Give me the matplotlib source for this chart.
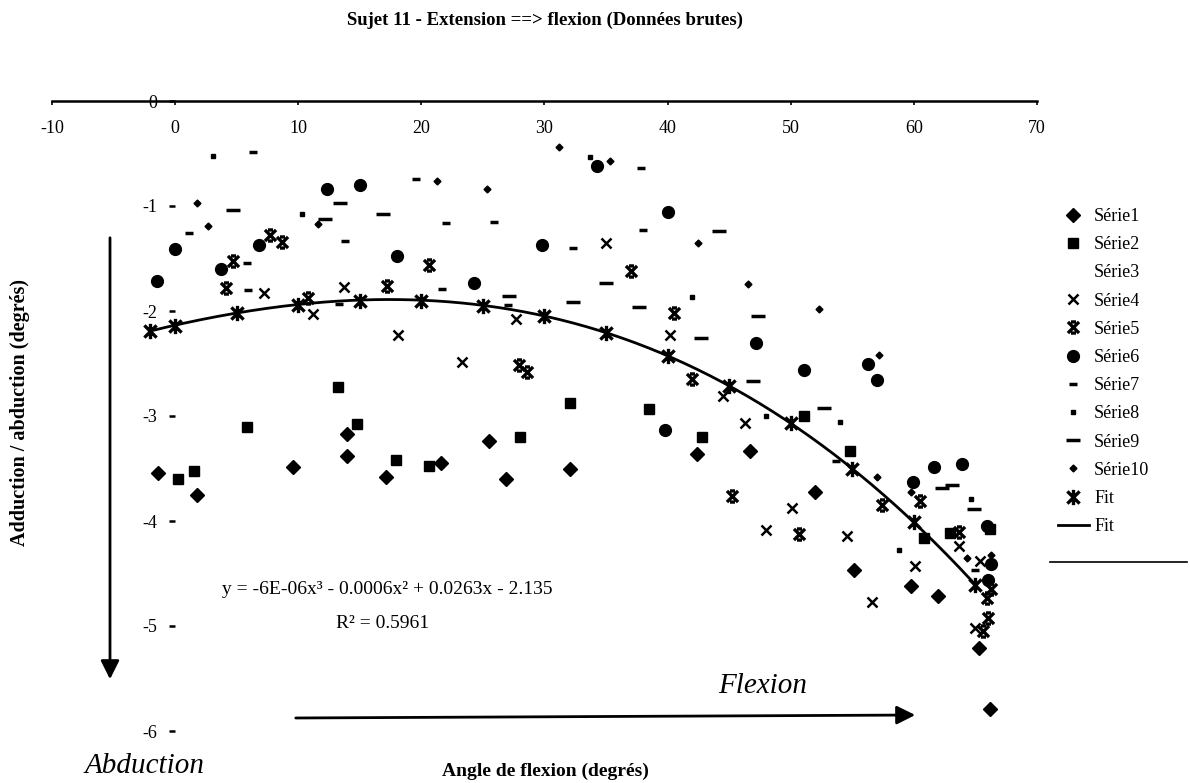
import matplotlib
matplotlib.use("Agg")
import numpy as np
import matplotlib.pyplot as plt
from matplotlib.path import Path
from matplotlib.lines import Line2D

plt.rcParams['font.family'] = ['Liberation Serif', 'DejaVu Serif']
plt.rcParams['axes.unicode_minus'] = False

# data
s1_x = [-1.4, 1.8, 9.6, 14.0, 14.0, 17.1, 21.6, 25.5, 26.9, 32.1, 42.4, 46.7, 52.0, 55.1, 59.8, 62.0, 65.3, 66.2]
s1_y = [-3.54, -3.75, -3.49, -3.17, -3.38, -3.58, -3.45, -3.24, -3.6, -3.5, -3.36, -3.33, -3.72, -4.47, -4.62, -4.71, -5.21, -5.79]

s2_x = [0.2, 1.5, 5.8, 13.2, 14.8, 17.9, 20.6, 28.0, 32.1, 38.5, 42.8, 51.1, 54.8, 60.8, 62.9, 66.2]
s2_y = [-3.6, -3.52, -3.1, -2.72, -3.08, -3.42, -3.48, -3.2, -2.88, -2.93, -3.2, -3.0, -3.33, -4.16, -4.11, -4.08]

s3_x = []
s3_y = []

s4_x = [7.2, 11.2, 13.7, 18.1, 23.3, 27.7, 35.0, 40.2, 44.5, 46.3, 48.0, 50.1, 54.6, 56.6, 60.1, 63.7, 65.4, 65.0]
s4_y = [-1.83, -2.03, -1.77, -2.23, -2.49, -2.08, -1.35, -2.23, -2.81, -3.07, -4.09, -3.88, -4.14, -4.77, -4.43, -4.24, -4.38, -5.02]

s5_x = [4.1, 4.7, 7.7, 8.7, 10.8, 17.2, 20.6, 27.9, 28.6, 37.0, 40.5, 42.0, 45.2, 50.7, 57.4, 60.5, 63.7, 66.3, 65.9, 66.0, 65.6]
s5_y = [-1.78, -1.52, -1.28, -1.34, -1.88, -1.76, -1.56, -2.51, -2.58, -1.62, -2.02, -2.65, -3.76, -4.12, -3.85, -3.81, -4.1, -4.65, -4.73, -4.92, -5.05]

s6_x = [-1.5, 0.0, 3.7, 6.8, 12.3, 15.0, 18.0, 24.3, 29.8, 34.3, 40.0, 47.2, 51.1, 56.3, 57.0, 39.8, 59.9, 61.6, 63.9, 65.9, 66.3, 66.0]
s6_y = [-1.71, -1.41, -1.6, -1.37, -0.84, -0.8, -1.48, -1.73, -1.37, -0.62, -1.06, -2.3, -2.56, -2.5, -2.66, -3.13, -3.63, -3.49, -3.46, -4.05, -4.41, -4.56]

s7_x = [1.1, 5.8, 5.9, 6.3, 13.8, 13.3, 19.6, 21.7, 22.0, 25.9, 27.0, 32.3, 37.8, 38.0, 53.7, 65.0]
s7_y = [-1.26, -1.54, -1.8, -0.49, -1.33, -1.93, -0.74, -1.79, -1.16, -1.15, -1.94, -1.4, -0.64, -1.23, -3.43, -4.47]

s8_x = [3.1, 10.3, 33.7, 42.0, 48.0, 54.0, 58.8, 64.6]
s8_y = [-0.52, -1.08, -0.53, -1.87, -3.0, -3.06, -4.28, -3.79]

s9_x = [4.7, 12.2, 13.4, 16.9, 27.1, 32.3, 35.0, 37.7, 42.7, 44.2, 46.9, 47.3, 52.7, 62.3, 63.1, 64.9]
s9_y = [-1.04, -1.12, -0.97, -1.08, -1.86, -1.91, -1.73, -1.96, -2.26, -1.24, -2.67, -2.05, -2.92, -3.69, -3.66, -3.89]

s10_x = [1.8, 2.7, 11.6, 21.3, 25.3, 31.2, 35.3, 42.5, 46.5, 52.3, 57.2, 57.0, 59.8, 64.3, 66.3]
s10_y = [-0.97, -1.19, -1.17, -0.76, -0.84, -0.44, -0.57, -1.35, -1.74, -1.98, -2.42, -3.58, -3.72, -4.35, -4.32]

fit_x = [-2, 0, 5, 10, 15, 20, 25, 30, 35, 40, 45, 50, 55, 60, 65]
fit_y = [-2.19, -2.14, -2.02, -1.94, -1.9, -1.9, -1.95, -2.05, -2.21, -2.43, -2.71, -3.07, -3.5, -4.01, -4.61]

# trendline coefficients shown on the chart
trend = [-6e-06, -0.0006, 0.0263, -2.135]

x_ticks = [-10, 0, 10, 20, 30, 40, 50, 60, 70]
y_ticks = [0, -1, -2, -3, -4, -5, -6]

W, H = 1190, 783

# custom markers
hourglass = Path([(-1, -1), (1, 1), (-1, 1), (1, -1), (-0.45, 1), (0.45, 1), (-0.45, -1), (0.45, -1)],
                 [Path.MOVETO, Path.LINETO] * 4)
star = Path([(-1, -1), (1, 1), (-1, 1), (1, -1), (0, -1.25), (0, 1.25)],
            [Path.MOVETO, Path.LINETO] * 3)

fig = plt.figure(figsize=(W / 100, H / 100), dpi=100)
ax = fig.add_axes([52 / W, (H - 731) / H, 985 / W, 630 / H])

k = 'black'
h1, = ax.plot(s1_x, s1_y, 'D', color=k, ms=7.5, ls='none')
h2, = ax.plot(s2_x, s2_y, 's', color=k, ms=7.5, ls='none')
h3, = ax.plot(s3_x, s3_y, marker='none', ls='none')
h4, = ax.plot(s4_x, s4_y, 'x', color=k, ms=7, mew=1.8, ls='none')
h5, = ax.plot(s5_x, s5_y, marker=hourglass, color=k, ms=8, mew=2.4, ls='none')
h6, = ax.plot(s6_x, s6_y, 'o', color=k, ms=8.5, ls='none')
h7, = ax.plot(s7_x, s7_y, '_', color=k, ms=6, mew=2.5, ls='none')
h8, = ax.plot(s8_x, s8_y, 's', color=k, ms=2.5, ls='none')
h9, = ax.plot(s9_x, s9_y, '_', color=k, ms=10, mew=2.5, ls='none')
h10, = ax.plot(s10_x, s10_y, 'D', color=k, ms=3.5, ls='none')

xs = np.linspace(fit_x[0], fit_x[-1], 200)
hl, = ax.plot(xs, np.polyval(trend, xs), color=k, lw=2)
hf, = ax.plot(fit_x, fit_y, marker=star, color=k, ms=11, mew=2.4, ls='none')

ax.set_xlim(-10, 70)
ax.set_ylim(-6, 0)
ax.set_xticks(x_ticks)
ax.set_xticklabels([str(v) for v in x_ticks])
ax.set_yticks(y_ticks)
ax.set_yticklabels([str(v) for v in y_ticks])

ax.spines['top'].set_visible(False)
ax.spines['right'].set_visible(False)
ax.spines['bottom'].set_position(('data', 0))
ax.spines['bottom'].set_linewidth(1.8)
ax.spines['left'].set_position(('data', 0))
ax.spines['left'].set_color('none')
ax.tick_params(axis='x', length=3, width=1.2, pad=11, labelsize=13)
ax.tick_params(axis='y', length=4, width=1.8, pad=9, labelsize=13)
ax.patch.set_alpha(0)

# texts
fig.text(545 / W, 1 - 20 / H, "Sujet 11 - Extension ==> flexion (Données brutes)",
         ha='center', va='center', fontsize=13.5, fontweight='bold')
fig.text(20 / W, 1 - 412 / H, "Adduction / abduction (degrés)", rotation=90,
         ha='center', va='center', fontsize=14.5, fontweight='bold')
fig.text(545 / W, 1 - 771 / H, "Angle de flexion (degrés)",
         ha='center', va='center', fontsize=14, fontweight='bold')
fig.text(145 / W, 1 - 766 / H, "Abduction", ha='center', va='center',
         fontsize=21, style='italic')
fig.text(763 / W, 1 - 686 / H, "Flexion", ha='center', va='center',
         fontsize=21, style='italic')
fig.text(387 / W, 1 - 590 / H, "y = -6E-06x³ - 0.0006x² + 0.0263x - 2.135",
         ha='center', va='center', fontsize=14)
fig.text(383 / W, 1 - 623 / H, "R² = 0.5961", ha='center', va='center', fontsize=14)

# direction arrows
ax.annotate('', xy=(110, H - 682), xytext=(110, H - 235), xycoords='figure pixels',
            arrowprops=dict(arrowstyle='-|>', color=k, lw=2, mutation_scale=28))
ax.annotate('', xy=(918, H - 715), xytext=(293, H - 718), xycoords='figure pixels',
            arrowprops=dict(arrowstyle='-|>', color=k, lw=2, mutation_scale=28))

handles = [h1, h2, h3, h4, h5, h6, h7, h8, h9, h10, hf, hl]
labels = ["Série1", "Série2", "Série3", "Série4", "Série5", "Série6", "Série7",
          "Série8", "Série9", "Série10", "Fit", "Fit"]
fig.legend(handles, labels, loc='upper left', bbox_to_anchor=(1058 / W, 1 - 208 / H),
           frameon=False, fontsize=13, labelspacing=0.62, handlelength=1.7,
           handletextpad=0.3, borderpad=0, borderaxespad=0)
fig.add_artist(Line2D([1050 / W, 1187 / W], [1 - 562 / H, 1 - 562 / H], color=k, lw=1.2))

fig.savefig("out.png", dpi=100)
